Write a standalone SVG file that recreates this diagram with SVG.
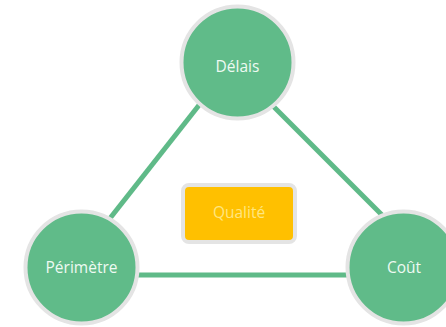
<svg xmlns="http://www.w3.org/2000/svg" width="446" height="327" viewBox="0 0 446 327">
<style>
.link{stroke:#5fba88;stroke-width:5;fill:none}
.node circle{fill:#60bb89;stroke:#e4e4e4;stroke-width:4}
.label{font-family:"Open Sans","Noto Sans",sans-serif;font-size:15.5px;fill:#eefaf2;text-anchor:middle;dominant-baseline:central}
.q rect{fill:#ffc000;stroke:#e4e4e4;stroke-width:4}
.q text{font-family:"Open Sans","Noto Sans",sans-serif;font-size:15.5px;fill:#ffe680;text-anchor:middle;dominant-baseline:central}
</style>
<rect width="446" height="327" fill="#ffffff"/>
<g id="connectors">
<line class="link" x1="207" y1="95" x2="100" y2="231"/>
<line class="link" x1="270" y1="103" x2="392" y2="225"/>
<line class="link" x1="130" y1="275" x2="360" y2="275"/>
</g>
<g id="node-delais" class="node">
<circle cx="237.5" cy="62.5" r="56"/>
<text class="label" x="237.5" y="65.5">Délais</text>
</g>
<g id="node-perimetre" class="node">
<circle cx="81.5" cy="267.5" r="56"/>
<text class="label" x="81.5" y="267">Périmètre</text>
</g>
<g id="node-cout" class="node">
<circle cx="403.5" cy="267.5" r="56"/>
<text class="label" x="404" y="267">Coût</text>
</g>
<g id="node-qualite" class="q">
<rect x="183" y="185" width="112" height="57" rx="6"/>
<text x="239" y="212">Qualité</text>
</g>
</svg>
